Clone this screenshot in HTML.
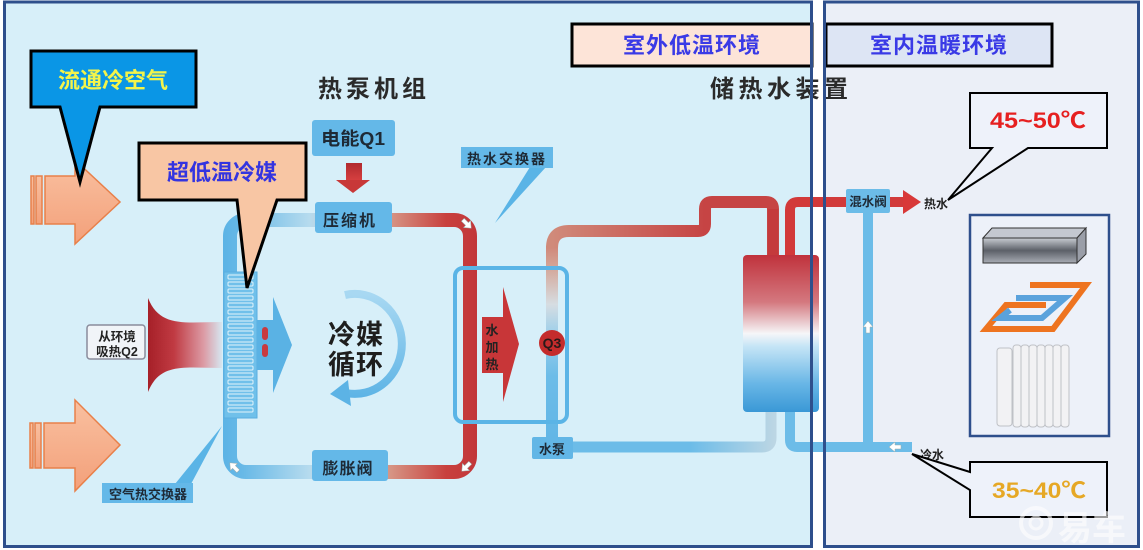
<!DOCTYPE html>
<html><head><meta charset="utf-8">
<style>
html,body{margin:0;padding:0;background:#fff;}
svg{display:block}
text{font-family:"Liberation Sans","Noto Sans CJK SC",sans-serif;}
</style></head><body>
<svg width="1143" height="550" viewBox="0 0 1143 550" xmlns="http://www.w3.org/2000/svg">
<defs>
 <linearGradient id="loop" gradientUnits="userSpaceOnUse" x1="223" y1="0" x2="477" y2="0">
  <stop offset="0" stop-color="#5cb3e5"/>
  <stop offset="0.08" stop-color="#68b9e7"/>
  <stop offset="0.34" stop-color="#b6dbee"/>
  <stop offset="0.66" stop-color="#d69484"/>
  <stop offset="0.88" stop-color="#c8403e"/>
  <stop offset="1" stop-color="#c2363a"/>
 </linearGradient>
 <linearGradient id="wv" gradientUnits="userSpaceOnUse" x1="0" y1="228" x2="0" y2="440">
  <stop offset="0" stop-color="#cc6c5e"/>
  <stop offset="0.18" stop-color="#d4a496"/>
  <stop offset="0.36" stop-color="#d6dde2"/>
  <stop offset="0.5" stop-color="#9ccfea"/>
  <stop offset="0.7" stop-color="#6cbce8"/>
  <stop offset="1" stop-color="#62b6e6"/>
 </linearGradient>
 <linearGradient id="wh" gradientUnits="userSpaceOnUse" x1="552" y1="0" x2="705" y2="0">
  <stop offset="0" stop-color="#d08a7a"/>
  <stop offset="1" stop-color="#c64444"/>
 </linearGradient>
 <linearGradient id="wb" gradientUnits="userSpaceOnUse" x1="690" y1="0" x2="775" y2="0">
  <stop offset="0" stop-color="#6cbce8"/>
  <stop offset="1" stop-color="#bcd6e4"/>
 </linearGradient>
 <linearGradient id="horn" gradientUnits="userSpaceOnUse" x1="148" y1="0" x2="222" y2="0">
  <stop offset="0" stop-color="#a62028"/>
  <stop offset="0.35" stop-color="#c03a42"/>
  <stop offset="0.75" stop-color="#dc9aa4"/>
  <stop offset="1" stop-color="#d6e6f0"/>
 </linearGradient>
 <linearGradient id="tank" x1="0" y1="0" x2="0" y2="1">
  <stop offset="0" stop-color="#c0323c"/>
  <stop offset="0.3" stop-color="#d4787f"/>
  <stop offset="0.5" stop-color="#f6f6f8"/>
  <stop offset="0.58" stop-color="#c6e5f6"/>
  <stop offset="0.82" stop-color="#68b6e6"/>
  <stop offset="1" stop-color="#3a98d6"/>
 </linearGradient>
 <linearGradient id="orng" x1="0" y1="0" x2="0" y2="1">
  <stop offset="0" stop-color="#f9c0a0"/>
  <stop offset="1" stop-color="#f3a07a"/>
 </linearGradient>
 <linearGradient id="acf" x1="0" y1="0" x2="0" y2="1">
  <stop offset="0" stop-color="#c8ccd2"/>
  <stop offset="0.5" stop-color="#5c6068"/>
  <stop offset="1" stop-color="#a8acb4"/>
 </linearGradient>
 <linearGradient id="arcg" gradientUnits="userSpaceOnUse" x1="0" y1="294" x2="0" y2="400">
  <stop offset="0" stop-color="#a8d8f2"/>
  <stop offset="1" stop-color="#5cb3e5"/>
 </linearGradient>
 <linearGradient id="dn" x1="0" y1="0" x2="0" y2="1">
  <stop offset="0" stop-color="#b02a2e"/>
  <stop offset="1" stop-color="#d84040"/>
 </linearGradient>
 <g id="wa"><polygon points="-6,-2 0,-2 0,-5 6,0 0,5 0,2 -6,2" fill="#fff" stroke="#9aa" stroke-width="0.5"/></g>
</defs>

<!-- panel backgrounds -->
<rect x="4.5" y="2" width="807" height="544.5" fill="#d7eff9"/>
<rect x="824.5" y="2" width="314" height="544.5" fill="#ebeff7"/>

<!-- region labels -->
<rect x="572" y="24" width="240" height="42" fill="#fde4d8" stroke="#000" stroke-width="3"/>
<text x="692" y="53" font-size="22" font-weight="bold" fill="#3a3ae6" text-anchor="middle" letter-spacing="1">室外低温环境</text>
<rect x="826" y="24" width="226" height="42" fill="#dde5f4" stroke="#000" stroke-width="3"/>
<text x="939" y="53" font-size="22" font-weight="bold" fill="#3a3ae6" text-anchor="middle" letter-spacing="1">室内温暖环境</text>

<!-- titles -->
<text x="318" y="97" font-size="24" font-weight="bold" fill="#2a2a2a" letter-spacing="4">热泵机组</text>
<text x="710" y="97" font-size="24" font-weight="bold" fill="#2a2a2a" letter-spacing="4.5">储热水装置</text>

<!-- orange arrows -->
<g fill="url(#orng)" stroke="#e8804a" stroke-width="1.5">
 <rect x="31" y="176" width="3" height="48"/>
 <rect x="36" y="176" width="6" height="48"/>
 <polygon points="45,176 75,176 75,160 120,202 75,244 75,224 45,224"/>
 <rect x="30" y="423" width="3" height="45"/>
 <rect x="35" y="423" width="6" height="45"/>
 <polygon points="44,423 75,423 75,400 120,445 75,491 75,468 44,468"/>
</g>

<!-- horn -->
<path d="M148,298 C160,328 185,322 222,322 L222,368 C185,368 160,362 148,392 Z" fill="url(#horn)"/>
<rect x="87" y="325" width="58" height="34" rx="3" fill="#f1f4f8" stroke="#8a8c9c" stroke-width="1.5"/>
<text x="117" y="341" font-size="12.5" font-weight="bold" fill="#222" text-anchor="middle">从环境</text>
<text x="117" y="356" font-size="12.5" font-weight="bold" fill="#222" text-anchor="middle">吸热Q2</text>

<!-- refrigerant loop -->
<rect x="230" y="220" width="240" height="252" rx="16" fill="none" stroke="url(#loop)" stroke-width="14"/>

<!-- coil -->
<rect x="224" y="272" width="33" height="146" fill="#70c0ea" stroke="#5aaee0" stroke-width="1"/>
<g fill="none" stroke="#e2f3fb" stroke-width="1">
 <rect x="228" y="275" width="25" height="4" rx="1"/><rect x="228" y="282" width="25" height="4" rx="1"/>
 <rect x="228" y="289" width="25" height="4" rx="1"/><rect x="228" y="296" width="25" height="4" rx="1"/>
 <rect x="228" y="303" width="25" height="4" rx="1"/><rect x="228" y="310" width="25" height="4" rx="1"/>
 <rect x="228" y="317" width="25" height="4" rx="1"/><rect x="228" y="324" width="25" height="4" rx="1"/>
 <rect x="228" y="331" width="25" height="4" rx="1"/><rect x="228" y="338" width="25" height="4" rx="1"/>
 <rect x="228" y="345" width="25" height="4" rx="1"/><rect x="228" y="352" width="25" height="4" rx="1"/>
 <rect x="228" y="359" width="25" height="4" rx="1"/><rect x="228" y="366" width="25" height="4" rx="1"/>
 <rect x="228" y="373" width="25" height="4" rx="1"/><rect x="228" y="380" width="25" height="4" rx="1"/>
 <rect x="228" y="387" width="25" height="4" rx="1"/><rect x="228" y="394" width="25" height="4" rx="1"/>
 <rect x="228" y="401" width="25" height="4" rx="1"/><rect x="228" y="408" width="25" height="4" rx="1"/>
</g>

<!-- blue arrow from coil -->
<polygon points="257,320 273,320 273,297 292,345 273,393 273,370 257,370" fill="#5ab2e4"/>
<rect x="262" y="327" width="6" height="13" rx="3" fill="#c83a40"/>
<rect x="262" y="344" width="6" height="13" rx="3" fill="#c83a40"/>

<!-- circulation arc -->
<path d="M345,295 A47 50 0 1 1 346,393" fill="none" stroke="url(#arcg)" stroke-width="8"/>
<polygon points="330,394 348,380 351,406" fill="#5cb3e5"/>
<text x="328" y="344" font-size="27" font-weight="bold" fill="#1e1e1e" letter-spacing="1">冷媒</text>
<text x="328" y="374" font-size="27" font-weight="bold" fill="#1e1e1e" letter-spacing="1">循环</text>

<!-- energy input -->
<rect x="312" y="120" width="83" height="36" rx="3" fill="#64b8e8"/>
<text x="353" y="145" font-size="18" font-weight="bold" fill="#1e2a36" text-anchor="middle" textLength="64" lengthAdjust="spacingAndGlyphs">电能Q1</text>
<rect x="346" y="163" width="16" height="18" fill="url(#dn)"/>
<polygon points="336,180 370,180 353,193" fill="#c83838"/>

<!-- compressor & valve -->
<rect x="315" y="202" width="77" height="31" rx="3" fill="#64b8e8"/>
<text x="350" y="226" font-size="16" font-weight="bold" fill="#1e2a36" text-anchor="middle" letter-spacing="2">压缩机</text>
<rect x="312" y="450" width="76" height="31" rx="3" fill="#64b8e8"/>
<text x="348" y="474" font-size="16" font-weight="bold" fill="#1e2a36" text-anchor="middle" letter-spacing="1">膨胀阀</text>

<!-- air heat exchanger label -->
<polygon points="175,484 191,484 222,426" fill="#5ab4e6"/>
<rect x="102" y="483" width="91" height="20" fill="#64b8e8"/>
<text x="148" y="499" font-size="13" font-weight="bold" fill="#1e2a36" text-anchor="middle">空气热交换器</text>

<!-- loop white arrows -->
<use href="#wa" transform="translate(467,224) rotate(45)"/>
<use href="#wa" transform="translate(466,467) rotate(135)"/>
<use href="#wa" transform="translate(234,467) rotate(225)"/>

<!-- water loop -->
<line x1="552" y1="440" x2="552" y2="246" stroke="url(#wv)" stroke-width="12"/>
<path d="M552,248 Q552,231 569,231 H698 Q705,231 705,224 V209 Q705,202 712,202 H766 Q773,202 773,209 V256" fill="none" stroke="url(#wh)" stroke-width="12"/>
<path d="M773,209 V256" stroke="#c43a3c" stroke-width="10"/>
<path d="M790,256 V210 Q790,202 798,202 H905" fill="none" stroke="#d23a3a" stroke-width="10"/>
<polygon points="903,190 921,202 903,214" fill="#d83838"/>
<path d="M573,447 H762 Q771,447 771,438 V410" fill="none" stroke="url(#wb)" stroke-width="11"/>
<path d="M790,410 V440 Q790,447 797,447 H912" fill="none" stroke="#6cbce8" stroke-width="10"/>
<line x1="868" y1="210" x2="868" y2="447" stroke="#6cbce8" stroke-width="10"/>
<use href="#wa" transform="translate(868,327) rotate(-90)"/>
<use href="#wa" transform="translate(895,447) rotate(180)"/>

<!-- tank -->
<rect x="743" y="255" width="76" height="157" rx="4" fill="url(#tank)"/>

<!-- heat exchanger box -->
<polygon points="482,317 503,317 503,287 519,344 503,402 503,373 482,373" fill="#c83638"/>
<text x="492" y="335" font-size="13" font-weight="bold" fill="#222" text-anchor="middle">水</text>
<text x="492" y="352" font-size="13" font-weight="bold" fill="#222" text-anchor="middle">加</text>
<text x="492" y="369" font-size="13" font-weight="bold" fill="#222" text-anchor="middle">热</text>
<circle cx="552" cy="343" r="13" fill="#c42c2c"/>
<text x="552" y="348" font-size="14" font-weight="bold" fill="#2a1a1a" text-anchor="middle">Q3</text>
<rect x="455" y="268" width="112" height="154" rx="8" fill="none" stroke="#5ab4e6" stroke-width="4"/>
<polygon points="530,167 546,167 495,223" fill="#5ab4e6"/>
<rect x="461" y="147" width="92" height="21" fill="#64b8e8"/>
<text x="507" y="164" font-size="14" font-weight="bold" fill="#1e2a36" text-anchor="middle" letter-spacing="2">热水交换器</text>

<!-- pump & mixer -->
<rect x="532" y="437" width="41" height="22" rx="2" fill="#62b6e6"/>
<text x="552" y="454" font-size="13" font-weight="bold" fill="#1e2a36" text-anchor="middle">水泵</text>
<rect x="846" y="189" width="44" height="24" rx="2" fill="#6cbce8"/>
<text x="868" y="206" font-size="12.5" font-weight="bold" fill="#1e2a36" text-anchor="middle">混水阀</text>
<text x="924" y="208" font-size="12" font-weight="bold" fill="#222">热水</text>
<text x="920" y="459" font-size="12" font-weight="bold" fill="#222">冷水</text>

<!-- appliances -->
<rect x="970" y="215" width="139" height="221" fill="#edf1f9" stroke="#2e4f8c" stroke-width="2.5"/>
<polygon points="983,238 992,228 1086,228 1077,238" fill="#c4c8d0" stroke="#333" stroke-width="1"/>
<rect x="983" y="238" width="94" height="25" fill="url(#acf)" stroke="#333" stroke-width="1"/>
<polygon points="1077,238 1086,228 1086,254 1077,263" fill="#9a9ea8" stroke="#333" stroke-width="1"/>
<polyline points="1030,285 1086,285 1053,329 986,329 1006,305 1046,305" fill="none" stroke="#ee7420" stroke-width="6"/>
<polyline points="1016,298 1065,298 1042,318 1000,318 1010,310" fill="none" stroke="#5aa2dc" stroke-width="6"/>
<g fill="#f2f2f4" stroke="#bfc1c6" stroke-width="1">
 <rect x="997" y="348" width="15" height="78" rx="3"/>
 <rect x="1013" y="345" width="8" height="82" rx="3"/>
 <rect x="1021" y="345" width="8" height="82" rx="3"/>
 <rect x="1029" y="345" width="8" height="82" rx="3"/>
 <rect x="1037" y="345" width="8" height="82" rx="3"/>
 <rect x="1045" y="345" width="8" height="82" rx="3"/>
 <rect x="1053" y="345" width="8" height="82" rx="3"/>
 <rect x="1061" y="345" width="8" height="82" rx="3"/>
</g>

<!-- callouts -->
<path d="M31,51 H196 V107 H100 L80,182 L60,107 H31 Z" fill="#0a96e6" stroke="#000" stroke-width="3"/>
<text x="113" y="88" font-size="22" font-weight="bold" fill="#f4f44a" text-anchor="middle">流通冷空气</text>
<path d="M139,143 H306 V200 H277 L247,288 L237,200 H139 Z" fill="#f8c6a4" stroke="#000" stroke-width="3"/>
<text x="222" y="180" font-size="22" font-weight="bold" fill="#3434e0" text-anchor="middle">超低温冷媒</text>
<path d="M970,93 H1107 V148 H1028 L948,200 L992,148 H970 Z" fill="#eef2fa" stroke="#000" stroke-width="2"/>
<text x="1038" y="128" font-size="22" font-weight="bold" fill="#e62020" text-anchor="middle" textLength="96" lengthAdjust="spacingAndGlyphs">45~50℃</text>
<path d="M970,462 H1107 V517 H970 V490 L912,454 L970,472 Z" fill="#eef2fa" stroke="#000" stroke-width="2"/>
<text x="1039" y="498" font-size="22" font-weight="bold" fill="#e6a825" text-anchor="middle" textLength="94" lengthAdjust="spacingAndGlyphs">35~40℃</text>

<!-- watermark -->
<g opacity="0.6">
 <circle cx="1036" cy="523" r="15" fill="none" stroke="#fff" stroke-width="4"/>
 <circle cx="1036" cy="523" r="6" fill="none" stroke="#fff" stroke-width="3"/>
 <text x="1058" y="540" font-size="34" font-weight="bold" fill="#fff">易车</text>
</g>

<!-- panel borders -->
<rect x="4.5" y="2" width="807" height="544.5" fill="none" stroke="#2e4f8c" stroke-width="3"/>
<rect x="824.5" y="2" width="314" height="544.5" fill="none" stroke="#2e4f8c" stroke-width="3"/>
</svg>
</body></html>
